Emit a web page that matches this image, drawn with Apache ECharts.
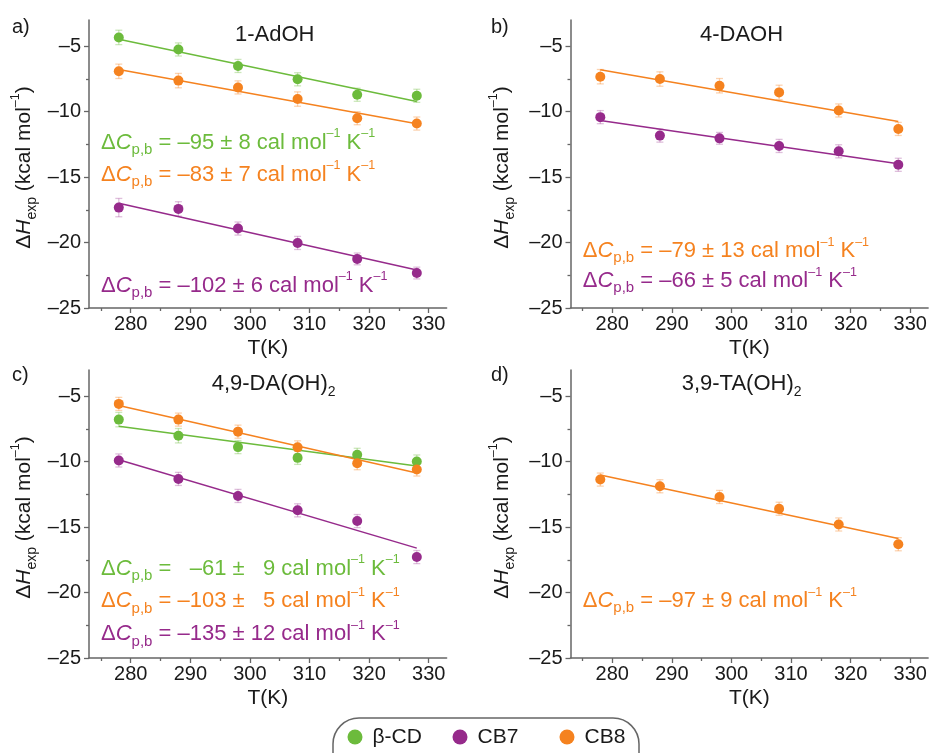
<!DOCTYPE html>
<html>
<head>
<meta charset="utf-8">
<script src="https://cdn.jsdelivr.net/npm/echarts@6/dist/echarts.min.js"></script>
<style>
  html, body { margin: 0; padding: 0; background: #ffffff; }
  #chart { width: 933px; height: 753px; }
</style>
</head>
<body>
<div id="chart"></div>
<script>
// ---- data -------------------------------------------------------------
const temps = [278, 288, 298, 308, 318, 328];           // T (K)
const xTicks = [280, 290, 300, 310, 320, 330];
const xMinorTicks = [275, 285, 295, 305, 315, 325];
const yTicks = [-25, -20, -15, -10, -5];
const yMinorTicks = [-22.5, -17.5, -12.5, -7.5];

// a) 1-AdOH   (ΔH_exp, kcal/mol)
const adohBCD = [-4.33, -5.25, -6.51, -7.53, -8.71, -8.79];
const adohBCDErr = [0.55, 0.5, 0.5, 0.5, 0.5, 0.5];
const adohCB8 = [-6.92, -7.63, -8.15, -9.04, -10.50, -10.91];
const adohCB8Err = [0.55, 0.55, 0.5, 0.55, 0.5, 0.5];
const adohCB7 = [-17.33, -17.43, -18.93, -20.03, -21.25, -22.33];
const adohCB7Err = [0.7, 0.55, 0.5, 0.5, 0.45, 0.45];

// b) 4-DAOH
const daohCB8 = [-7.33, -7.51, -8.02, -8.53, -9.91, -11.32];
const daohCB8Err = [0.55, 0.55, 0.55, 0.55, 0.5, 0.5];
const daohCB7 = [-10.42, -11.83, -12.04, -12.62, -13.03, -14.06];
const daohCB7Err = [0.5, 0.5, 0.45, 0.5, 0.5, 0.5];

// c) 4,9-DA(OH)2
const da2BCD = [-6.79, -8.02, -8.89, -9.71, -9.48, -9.99];
const da2BCDErr = [0.55, 0.55, 0.5, 0.5, 0.5, 0.5];
const da2CB8 = [-5.59, -6.79, -7.71, -8.91, -10.12, -10.60];
const da2CB8Err = [0.5, 0.5, 0.5, 0.5, 0.5, 0.5];
const da2CB7 = [-9.91, -11.32, -12.62, -13.72, -14.54, -17.29];
const da2CB7Err = [0.5, 0.5, 0.5, 0.5, 0.5, 0.5];

// d) 3,9-TA(OH)2
const ta2CB8 = [-11.37, -11.88, -12.70, -13.60, -14.80, -16.31];
const ta2CB8Err = [0.5, 0.5, 0.5, 0.5, 0.5, 0.5];

// heat-capacity changes ΔCp,b (cal mol-1 K-1) and their uncertainties
const dCpAdoh = [-95, -83, -102];      // β-CD, CB8, CB7
const dCpAdohErr = [8, 7, 6];
const dCpDaoh = [-79, -66];            // CB8, CB7
const dCpDaohErr = [13, 5];
const dCpDa2 = [-61, -103, -135];      // β-CD, CB8, CB7
const dCpDa2Err = [9, 5, 12];
const dCpTa2 = [-97];                  // CB8
const dCpTa2Err = [9];

const hostNames = ['β-CD', 'CB7', 'CB8'];
const panelTitles = ['1-AdOH', '4-DAOH', '4,9-DA(OH)', '3,9-TA(OH)'];
const panelLetters = ['a)', 'b)', 'c)', 'd)'];

// ---- styling -----------------------------------------------------------
const FONT = 'Liberation Sans, Arial, Helvetica, sans-serif';
const INK = '#1a1a1a';
const AXIS = '#666666';
const COLORS = { 'β-CD': '#6cbb3c', 'CB7': '#962a8b', 'CB8': '#f5821f' };
const ERR_COLORS = {
  'β-CD': 'rgba(108,187,60,0.35)',
  'CB7': 'rgba(150,42,139,0.30)',
  'CB8': 'rgba(245,130,31,0.35)'
};

function dash(v) { return String(v).replace('-', '\u2013'); }

function richStyles(color, size, subSize, subDrop) {
  return {
    m: { fontFamily: FONT, fontSize: size, lineHeight: 30, fill: color },
    i: { fontFamily: FONT, fontSize: size, fontStyle: 'italic', lineHeight: 30, fill: color },
    s: { fontFamily: FONT, fontSize: subSize, lineHeight: subDrop, verticalAlign: 'bottom', fill: color },
    u: { fontFamily: FONT, fontSize: 12.5, lineHeight: 20, verticalAlign: 'top', fill: color }
  };
}

// ΔCp,b = value ± err cal mol-1 K-1 ; pad widths keep columns aligned
function dcpText(val, err, valWidth, errWidth) {
  let v = dash(val), e = String(err);
  while (v.length < valWidth) v = '\u2007' + v;
  while (e.length < errWidth) e = '\u2007' + e;
  return '{m|\u0394}{i|C}{s|p,b}{m| = ' + v + ' \u00b1 ' + e + ' cal mol}{u|\u20131}{m| K}{u|\u20131}';
}

// ---- panels ------------------------------------------------------------
const GRID_W = 357.6, GRID_H = 288;
const panels = [
  {
    grid: { left: 89, top: 20 }, letterPos: [12, 27], titlePos: [235, 35], sub2: false, yTitle: [24, 167.5],
    sets: [
      { host: 'β-CD', h: adohBCD, err: adohBCDErr, dcp: dCpAdoh[0], dcpErr: dCpAdohErr[0], at: [101, 142.5] },
      { host: 'CB8', h: adohCB8, err: adohCB8Err, dcp: dCpAdoh[1], dcpErr: dCpAdohErr[1], at: [101, 174.5] },
      { host: 'CB7', h: adohCB7, err: adohCB7Err, dcp: dCpAdoh[2], dcpErr: dCpAdohErr[2], at: [101, 285.5] }
    ], pad: [0, 0]
  },
  {
    grid: { left: 570.5, top: 20 }, letterPos: [491, 27], titlePos: [700, 35], sub2: false, yTitle: [502.5, 167.5],
    sets: [
      { host: 'CB8', h: daohCB8, err: daohCB8Err, dcp: dCpDaoh[0], dcpErr: dCpDaohErr[0], at: [582.7, 250.8] },
      { host: 'CB7', h: daohCB7, err: daohCB7Err, dcp: dCpDaoh[1], dcpErr: dCpDaohErr[1], at: [582.7, 280.8] }
    ], pad: [0, 0]
  },
  {
    grid: { left: 89, top: 370 }, letterPos: [12, 375], titlePos: [211.7, 384], sub2: true, yTitle: [24, 517.5],
    sets: [
      { host: 'β-CD', h: da2BCD, err: da2BCDErr, dcp: dCpDa2[0], dcpErr: dCpDa2Err[0], at: [101, 568.5] },
      { host: 'CB8', h: da2CB8, err: da2CB8Err, dcp: dCpDa2[1], dcpErr: dCpDa2Err[1], at: [101, 601] },
      { host: 'CB7', h: da2CB7, err: da2CB7Err, dcp: dCpDa2[2], dcpErr: dCpDa2Err[2], at: [101, 634] }
    ], pad: [4, 2]
  },
  {
    grid: { left: 570.5, top: 370 }, letterPos: [491, 375], titlePos: [681.7, 384], sub2: true, yTitle: [502.5, 517.5],
    sets: [
      { host: 'CB8', h: ta2CB8, err: ta2CB8Err, dcp: dCpTa2[0], dcpErr: dCpTa2Err[0], at: [582.7, 600.8] }
    ], pad: [0, 0]
  }
];

function renderErrorBar(params, api) {
  const x = api.value(0), y = api.value(1), e = api.value(2);
  const hi = api.coord([x, y + e]);
  const lo = api.coord([x, y - e]);
  const half = 3.5;
  const style = { stroke: api.visual('color'), lineWidth: 1.3 };
  return {
    type: 'group',
    children: [
      { type: 'line', shape: { x1: hi[0], y1: hi[1], x2: lo[0], y2: lo[1] }, style: style },
      { type: 'line', shape: { x1: hi[0] - half, y1: hi[1], x2: hi[0] + half, y2: hi[1] }, style: style },
      { type: 'line', shape: { x1: lo[0] - half, y1: lo[1], x2: lo[0] + half, y2: lo[1] }, style: style }
    ]
  };
}

const grids = [], xAxes = [], yAxes = [], series = [], graphics = [];

panels.forEach(function (p, k) {
  grids.push({ left: p.grid.left, top: p.grid.top, width: GRID_W, height: GRID_H, containLabel: false });

  const xi = xAxes.length, yi = yAxes.length;
  // main axes: line, major ticks, labels
  xAxes.push({
    type: 'value', gridIndex: k, min: 273, max: 333, position: 'bottom',
    axisLine: { show: true, onZero: false, lineStyle: { color: AXIS, width: 1.5 } },
    axisTick: { show: true, length: 5, customValues: xTicks, lineStyle: { color: AXIS, width: 1.3 } },
    axisLabel: { customValues: xTicks, margin: 6, fontSize: 20, fontFamily: FONT, color: INK },
    splitLine: { show: false },
    name: 'T(K)', nameLocation: 'middle', nameGap: 30,
    nameTextStyle: { fontSize: 21, fontFamily: FONT, color: INK }
  });
  // minor ticks
  xAxes.push({
    type: 'value', gridIndex: k, min: 273, max: 333, position: 'bottom',
    axisLine: { show: false, onZero: false },
    axisTick: { show: true, length: 3, customValues: xMinorTicks, lineStyle: { color: AXIS, width: 1.3 } },
    axisLabel: { show: false }, splitLine: { show: false }
  });
  yAxes.push({
    type: 'value', gridIndex: k, min: -25, max: -3, position: 'left',
    axisLine: { show: true, onZero: false, lineStyle: { color: AXIS, width: 1.5 } },
    axisTick: { show: true, length: 5, customValues: yTicks, lineStyle: { color: AXIS, width: 1.3 } },
    axisLabel: { customValues: yTicks, margin: 8, fontSize: 20, fontFamily: FONT, color: INK, formatter: dash },
    splitLine: { show: false }
  });
  yAxes.push({
    type: 'value', gridIndex: k, min: -25, max: -3, position: 'left',
    axisLine: { show: false, onZero: false },
    axisTick: { show: true, length: 3, customValues: yMinorTicks, lineStyle: { color: AXIS, width: 1.3 } },
    axisLabel: { show: false }, splitLine: { show: false }
  });

  p.sets.forEach(function (s) {
    const color = COLORS[s.host];
    // error bars
    series.push({
      type: 'custom', name: s.host + ' error', xAxisIndex: xi, yAxisIndex: yi, z: 1,
      itemStyle: { color: ERR_COLORS[s.host] },
      encode: { x: 0, y: 1 },
      data: temps.map(function (t, i) { return [t, s.h[i], s.err[i]]; }),
      renderItem: renderErrorBar, silent: true
    });
    // linear fit with slope ΔCp,b (kcal mol-1 K-1) through the centroid
    const slope = s.dcp / 1000;
    const tMean = temps.reduce(function (a, b) { return a + b; }, 0) / temps.length;
    const hMean = s.h.reduce(function (a, b) { return a + b; }, 0) / s.h.length;
    const t0 = temps[0], t1 = temps[temps.length - 1];
    series.push({
      type: 'line', name: s.host + ' fit', xAxisIndex: xi, yAxisIndex: yi, z: 2,
      showSymbol: false, silent: true, animation: false,
      lineStyle: { color: color, width: 1.5 },
      data: [[t0, hMean + slope * (t0 - tMean)], [t1, hMean + slope * (t1 - tMean)]]
    });
    // measured points
    series.push({
      type: 'scatter', name: s.host, xAxisIndex: xi, yAxisIndex: yi, z: 3,
      symbol: 'circle', symbolSize: 10, itemStyle: { color: color, opacity: 1 },
      data: temps.map(function (t, i) { return [t, s.h[i]]; })
    });
    // ΔCp,b annotation
    graphics.push({
      type: 'text', x: s.at[0], y: s.at[1], z: 10,
      style: {
        text: dcpText(s.dcp, s.dcpErr, p.pad[0], p.pad[1]),
        rich: richStyles(color, 22, 15, 6),
        fill: color,
        align: 'left', verticalAlign: 'middle'
      }
    });
  });

  // panel letter
  graphics.push({
    type: 'text', x: p.letterPos[0], y: p.letterPos[1],
    style: { text: panelLetters[k], fontSize: 20, fontFamily: FONT, fill: INK, align: 'left', verticalAlign: 'middle' }
  });
  // guest title
  graphics.push({
    type: 'text', x: p.titlePos[0], y: p.titlePos[1],
    style: {
      text: '{m|' + panelTitles[k] + '}' + (p.sub2 ? '{s|2}' : ''),
      rich: richStyles(INK, 22, 14, 14),
      fill: INK,
      align: 'left', verticalAlign: 'middle'
    }
  });
  // y axis title
  graphics.push({
    type: 'text', x: p.yTitle[0], y: p.yTitle[1], rotation: Math.PI / 2,
    style: {
      text: '{m|\u0394}{i|H}{s|exp}{m| (kcal mol}{u|\u20131}{m|)}',
      rich: richStyles(INK, 21, 14, 6),
      fill: INK,
      align: 'center', verticalAlign: 'middle'
    }
  });
});

// legend frame
graphics.push({
  type: 'rect', shape: { x: 333, y: 718, width: 306, height: 62, r: 26 },
  style: { fill: 'none', stroke: AXIS, lineWidth: 1.5 }, z: 0
});

const legendLefts = [347.5, 452.5, 559.5];
const legends = hostNames.map(function (name, i) {
  return {
    data: [name], left: legendLefts[i], top: 726.5, padding: 0,
    icon: 'circle', itemWidth: 15, itemHeight: 15, selectedMode: false,
    itemStyle: { color: COLORS[name], opacity: 1 },
    textStyle: { fontSize: 21, fontFamily: FONT, color: INK, padding: [0, 0, 0, 5] }
  };
});

const chart = echarts.init(document.getElementById('chart'), null, { renderer: 'canvas' });
chart.setOption({
  backgroundColor: '#ffffff',
  animation: false,
  grid: grids,
  xAxis: xAxes,
  yAxis: yAxes,
  legend: legends,
  series: series,
  graphic: graphics
});
</script>
</body>
</html>
